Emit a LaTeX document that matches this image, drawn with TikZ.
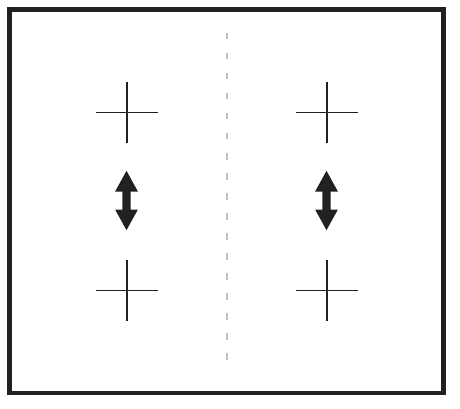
\documentclass[tikz,border=0pt]{standalone}
\usepackage{tikz}
\usetikzlibrary{positioning,calc}

\tikzset{
  frame/.style={line width=2.8pt, color=black!87},
  cross/.style={line width=0.85pt, color=black!87},
  midline/.style={line width=0.85pt, color=gray!50, dash pattern=on 3.6pt off 7.8pt},
  updown/.style={fill=black!87, draw=none}
}

\begin{document}
\begin{tikzpicture}[x=0.02cm, y=-0.02cm]
\useasboundingbox (0,0) rectangle (460,409);

% outer frame
\draw[frame](9.5,9.5) rectangle (443.5,393);

% centre line
\draw[midline](227,33) -- (227,368);

% crosses
\coordinate (topleft) at (127,112.5);
\coordinate (topright) at (327,112.5);
\coordinate (botleft) at (127,290.5);
\coordinate (botright) at (327,290.5);
\foreach \c in {topleft,topright,botleft,botright}{
  \draw[cross]([xshift=-0.62cm]\c) -- ([xshift=0.62cm]\c);
  \draw[cross]([yshift=-0.62cm]\c) -- ([yshift=0.62cm]\c);
}

% double arrows
\coordinate (arrowleft) at (126.5,200.5);
\coordinate (arrowright) at (326.5,200.5);
\foreach \a in {arrowleft,arrowright}{
  \fill[updown] ($(\a)+(0,-29.7)$) -- ($(\a)+(11.4,-9)$) -- ($(\a)+(4.2,-9)$)
    -- ($(\a)+(4.2,9)$) -- ($(\a)+(11.4,9)$) -- ($(\a)+(0,29.7)$)
    -- ($(\a)+(-11.4,9)$) -- ($(\a)+(-4.2,9)$) -- ($(\a)+(-4.2,-9)$)
    -- ($(\a)+(-11.4,-9)$) -- cycle;
}
\end{tikzpicture}
\end{document}
